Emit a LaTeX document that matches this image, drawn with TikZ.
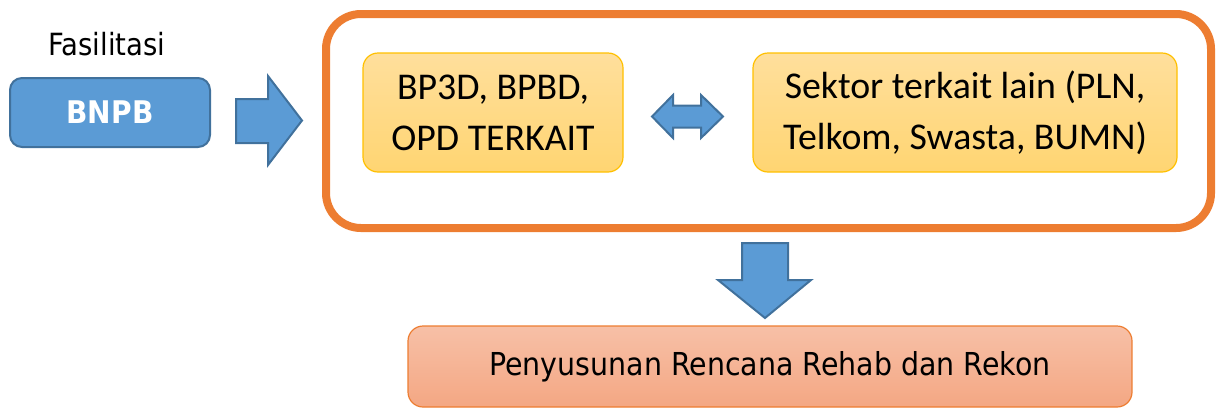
\documentclass[tikz,border=0pt]{standalone}
\usepackage{fontspec}
\setmainfont{Carlito}
\newfontfamily\tahoma[FakeStretch=0.9]{DejaVu Sans}
\definecolor{bnpbblue}{HTML}{5B9BD5}
\definecolor{bnpbline}{HTML}{41719C}
\definecolor{frameorange}{HTML}{ED7D31}
\definecolor{yelltop}{HTML}{FFDF9C}
\definecolor{yellbot}{HTML}{FFD572}
\definecolor{yellline}{HTML}{FFC000}
\definecolor{rekontop}{HTML}{F7C0A7}
\definecolor{rekonbot}{HTML}{F4A783}
\tikzset{
  bluebox/.style={draw=bnpbline, fill=bnpbblue, line width=1pt, rounded corners=6pt,
    minimum width=100pt, minimum height=34.5pt, text=white,
    font=\tahoma\bfseries\fontsize{15.6}{18}\selectfont},
  yellbox/.style={draw=yellline, top color=yelltop, bottom color=yellbot, line width=0.6pt,
    rounded corners=7.5pt, minimum height=59.5pt, align=center,
    font=\fontsize{18.9}{25.5}\selectfont},
  blockarrow/.style={draw=bnpbline, fill=bnpbblue, line width=1pt, line join=miter},
}
\begin{document}
\begin{tikzpicture}[x=0.5pt, y=-0.5pt]
            \useasboundingbox (0,0) rectangle (1218,408);
            % left side
            \node[font=\tahoma\fontsize{15.3}{18}\selectfont] (fas) at (107,44) {Fasilitasi};
            \node[bluebox] (bnpb) at (110,112.5) {BNPB};
            \draw[blockarrow] (236,99) -- (268,99) -- (268,76) -- (302,120.5) -- (268,165) -- (268,143) -- (236,143) -- cycle;
            % frame with the two parties
            \node[draw=frameorange, line width=4pt, rounded corners=17.5pt, minimum width=442.5pt, minimum height=107pt] (frame) at (768.5,121) {};
            \node[yellbox, minimum width=130pt] (bpbd) at (493,112.5) {BP3D, BPBD,\\OPD TERKAIT};
            \node[yellbox, minimum width=212pt] (sektor) at (965,112.5) {Sektor terkait lain (PLN,\\Telkom, Swasta, BUMN)};
            \draw[blockarrow] (652,116.5) -- (673,95) -- (673,105.5) -- (701,105.5) -- (701,95) -- (723,116.5) -- (701,138) -- (701,127.5) -- (673,127.5) -- (673,138) -- cycle;
            % result
            \draw[blockarrow] (742,243) -- (788,243) -- (788,280) -- (811,280) -- (765,318) -- (718,280) -- (742,280) -- cycle;
            \node[draw=frameorange, line width=0.6pt, top color=rekontop, bottom color=rekonbot, rounded corners=7.5pt,
              minimum width=362pt, minimum height=40.5pt, font=\tahoma\fontsize{15.8}{18}\selectfont] (rekon) at (770,366.5) {Penyusunan Rencana Rehab dan Rekon};
        \end{tikzpicture}
\end{document}
